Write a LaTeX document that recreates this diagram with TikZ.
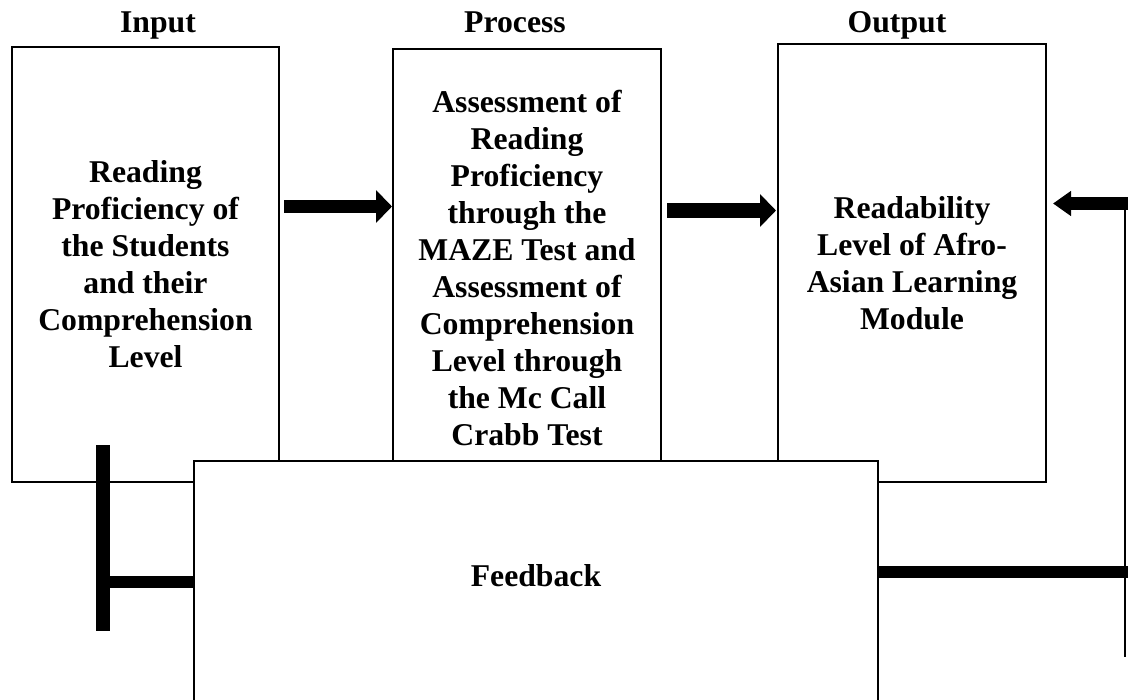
\documentclass[tikz,border=0pt]{standalone}
\usepackage{fontspec}
\setmainfont{Liberation Serif}
\usetikzlibrary{arrows.meta}

\begin{document}
\begin{tikzpicture}[x=1pt, y=1pt, line cap=butt,
    box/.style={draw, line width=1pt, fill=white, align=center, inner sep=0pt,
      font=\fontsize{15.85}{18.5}\selectfont\bfseries},
    heading/.style={anchor=base, font=\fontsize{15.85}{18.5}\selectfont\bfseries},
    fatarrow/.style={line width=#1, -{Triangle[length=8pt, width=16pt]}},
    fatline/.style={line width=#1}]

  \useasboundingbox (0,0) rectangle (564,-350);

  % Input - Process - Output
  \node[box, minimum width=133.5pt, minimum height=217.5pt] (in) at (72.75,-132.25)
    {Reading\\Proficiency of\\the Students\\and their\\Comprehension\\Level};
  \node[box, minimum width=134pt, minimum height=219pt] (pro) at (263.5,-134)
    {Assessment of\\Reading\\Proficiency\\through the\\MAZE Test and\\Assessment of\\Comprehension\\Level through\\the Mc Call\\Crabb Test};
  \node[box, minimum width=134pt, minimum height=219pt] (out) at (456,-131.5)
    {Readability\\Level of Afro-\\Asian Learning\\Module};

  \node[heading] (inTitle) at (79,-16.5) {Input};
  \node[heading] (proTitle) at (257.5,-16.5) {Process};
  \node[heading] (outTitle) at (448.5,-16.5) {Output};

  \coordinate (a1) at (0,-103.25);
  \coordinate (a2) at (0,-105.25);
  \coordinate (ra) at (564,-101.75);
  \draw[fatarrow=6.5pt] ([xshift=2pt]in.east |- a1) -- (pro.west |- a1);
  \draw[fatarrow=7.5pt] ([xshift=2.5pt]pro.east |- a2) -- ([xshift=-0.5pt]out.west |- a2);
  \draw[line width=6.5pt, -{Triangle[length=9pt, width=12pt]}] (ra) -- ([xshift=3pt]out.east |- ra);

  % Feedback
  \node[box, anchor=north, minimum width=342pt, text height=62.5pt, text depth=60pt] (fb) at (268,-230) {Feedback};

  \coordinate (lt) at (51.5,-222.5);
  \coordinate (lb) at (51.5,-315.5);
  \draw[fatline=7pt] (lt) -- (lb);
  \draw[fatline=6pt] ([yshift=1pt]fb.west) -- ([yshift=1pt]fb.west -| lt);

  \coordinate (rt) at (562.5,-98.5);
  \coordinate (rb) at (562.5,-328.5);
  \draw[fatline=1.2pt] (rt) -- (rb);
  \draw[fatline=6pt] ([yshift=6pt]fb.east) -- ([yshift=6pt]fb.east -| ra);

\end{tikzpicture}
\end{document}
